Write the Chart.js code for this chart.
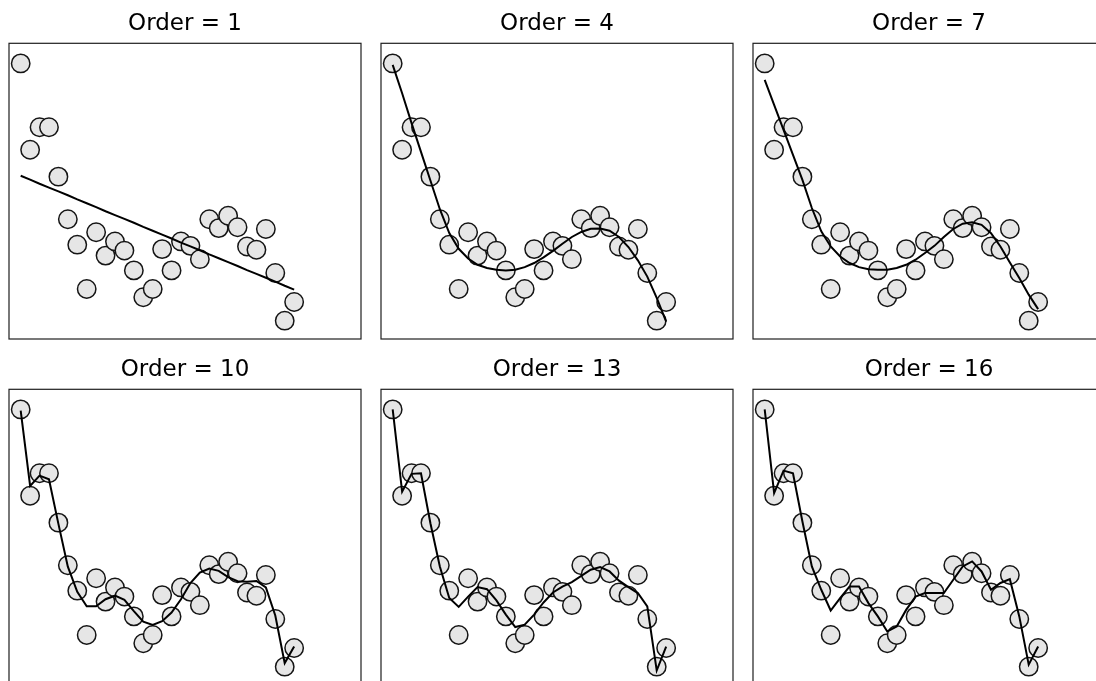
<!DOCTYPE html>
<html>
<head>
<meta charset="utf-8">
<script src="https://cdn.jsdelivr.net/npm/chart.js@4.4.1/dist/chart.umd.min.js"></script>
<style>
  html, body { margin: 0; padding: 0; background: #ffffff; }
  #fig { position: relative; width: 1096px; height: 681px; overflow: hidden; background: #ffffff; }
  #fig canvas { position: absolute; }
</style>
</head>
<body>
<div id="fig"></div>
<script>
// Sample positions and observed values
const xs = [0, 1, 2, 3, 4, 5, 6, 7, 8, 9, 10, 11, 12, 13, 14, 15, 16, 17, 18, 19, 20, 21, 22, 23, 24, 25, 26, 27, 28, 29];
const observed = [9.32, 6.40, 7.16, 7.16, 5.49, 4.05, 3.19, 1.69, 3.61, 2.82, 3.30, 2.99, 2.32, 1.41, 1.69, 3.04, 2.32, 3.30, 3.15, 2.70, 4.05, 3.75, 4.17, 3.78, 3.13, 3.02, 3.72, 2.23, 0.62, 1.25];

// Polynomial model orders shown, one panel each
const orders = [1, 4, 7, 10, 13, 16];

// Fitted curve values at each sample position, per order
const fit1 = [5.52, 5.39, 5.25, 5.12, 4.99, 4.86, 4.72, 4.59, 4.46, 4.32, 4.19, 4.06, 3.93, 3.79, 3.66, 3.53, 3.40, 3.26, 3.13, 3.00, 2.86, 2.73, 2.60, 2.47, 2.33, 2.20, 2.07, 1.94, 1.80, 1.67];
const fit4 = [9.27, 8.31, 7.30, 6.33, 5.36, 4.39, 3.58, 3.05, 2.72, 2.51, 2.40, 2.34, 2.32, 2.34, 2.43, 2.57, 2.76, 2.98, 3.22, 3.45, 3.62, 3.73, 3.74, 3.66, 3.45, 3.11, 2.66, 2.11, 1.39, 0.59];
const fit7 = [8.76, 7.92, 7.07, 6.23, 5.38, 4.43, 3.64, 3.13, 2.79, 2.57, 2.43, 2.36, 2.34, 2.34, 2.40, 2.51, 2.68, 2.91, 3.15, 3.45, 3.72, 3.90, 3.95, 3.86, 3.58, 3.13, 2.59, 2.06, 1.50, 1.01];
const fit10 = [9.28, 6.73, 7.08, 6.96, 5.45, 4.00, 3.15, 2.66, 2.66, 2.90, 3.02, 2.88, 2.50, 2.14, 2.03, 2.16, 2.45, 2.90, 3.45, 3.80, 3.94, 3.86, 3.65, 3.51, 3.49, 3.52, 3.30, 2.35, 0.74, 1.30];
const fit13 = [9.32, 6.54, 7.14, 7.16, 5.47, 4.01, 2.94, 2.64, 2.99, 3.31, 3.24, 2.86, 2.38, 1.96, 2.04, 2.38, 2.79, 3.13, 3.33, 3.48, 3.69, 3.90, 3.99, 3.84, 3.53, 3.31, 3.11, 2.66, 0.49, 1.30];
const fit16 = [9.32, 6.49, 7.25, 7.16, 5.53, 4.01, 3.22, 2.52, 2.94, 3.33, 3.33, 2.77, 2.32, 1.81, 1.98, 2.54, 2.99, 3.11, 3.11, 3.11, 3.56, 4.01, 4.18, 3.84, 3.22, 3.45, 3.58, 2.32, 0.69, 1.30];
const fits = [fit1, fit4, fit7, fit10, fit13, fit16];

// Axis limits shared by all panels
const xLimits = [-1.24, 36.09];
const yLimits = [0, 10];

// Panel grid geometry (pixels)
const colLeft = [8.5, 380.5, 752.5];
const rowTop = [0, 346];
const panelW = 352;
const panelH = 296;
const titleBlock = 43.3;
const padSide = 12;

// Draws the rectangular frame around the plotting area
const framePlugin = {
  id: 'frame',
  beforeDatasetsDraw(chart) {
    const a = chart.chartArea;
    const ctx = chart.ctx;
    ctx.save();
    ctx.strokeStyle = '#1e1e1e';
    ctx.lineWidth = 1.2;
    ctx.strokeRect(a.left, a.top, a.right - a.left, a.bottom - a.top);
    ctx.restore();
  }
};

const fig = document.getElementById('fig');

orders.forEach((order, k) => {
  const col = k % 3;
  const row = Math.floor(k / 3);
  const canvas = document.createElement('canvas');
  const w = panelW + 2 * padSide;
  const h = titleBlock + panelH + padSide;
  canvas.width = w;
  canvas.height = h;
  canvas.style.width = w + 'px';
  canvas.style.height = h + 'px';
  canvas.style.left = (colLeft[col] - padSide) + 'px';
  canvas.style.top = rowTop[row] + 'px';
  fig.appendChild(canvas);

  const pts = xs.map((x, i) => ({ x: x, y: observed[i] }));
  const curve = xs.map((x, i) => ({ x: x, y: fits[k][i] }));

  new Chart(canvas, {
    type: 'scatter',
    data: {
      datasets: [
        {
          type: 'line',
          data: curve,
          borderColor: '#000000',
          borderWidth: 2,
          pointRadius: 0,
          fill: false,
          tension: 0,
          order: 0,
          clip: false
        },
        {
          type: 'scatter',
          data: pts,
          backgroundColor: '#e6e6e6',
          borderColor: '#151515',
          borderWidth: 1.5,
          pointRadius: 9.2,
          pointHoverRadius: 9.2,
          order: 1,
          clip: false
        }
      ]
    },
    options: {
      responsive: false,
      animation: false,
      devicePixelRatio: 1,
      layout: { padding: { left: padSide, right: padSide, top: 0, bottom: padSide } },
      plugins: {
        legend: { display: false },
        tooltip: { enabled: false },
        title: {
          display: true,
          text: 'Order = ' + order,
          color: '#000000',
          font: { family: 'DejaVu Sans', size: 23, weight: 'normal', lineHeight: 1.2 },
          padding: { top: 10, bottom: titleBlock - 10 - 23 * 1.2 }
        }
      },
      scales: {
        x: { type: 'linear', min: xLimits[0], max: xLimits[1], display: false },
        y: { type: 'linear', min: yLimits[0], max: yLimits[1], display: false }
      }
    },
    plugins: [framePlugin]
  });
});
</script>
</body>
</html>
